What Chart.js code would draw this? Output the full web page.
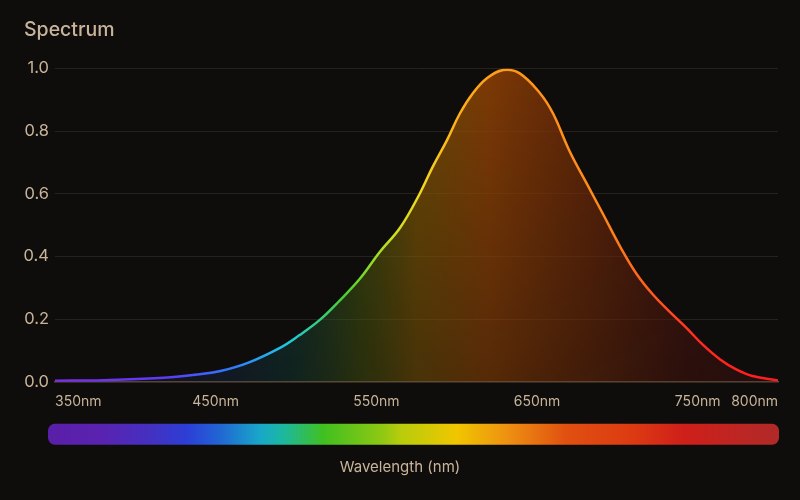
<!DOCTYPE html>
<html>
<head>
<meta charset="utf-8">
<script src="https://cdn.jsdelivr.net/npm/chart.js@4.4.0/dist/chart.umd.min.js"></script>
<style>
html,body{margin:0;padding:0;background:#0f0d0b;}
#wrap{width:800px;height:500px;}
</style>
</head>
<body>
<div id="wrap"><canvas id="myChart"></canvas></div>
<script>
// spectrum readings (nm, relative intensity)
const wavelengths=[350,380,415,440,453,470,490,502,515,527,540,552,565,577,585,594,602,610,619,629,639,652,660,670,681,691,702,712,722,732,743,753,764,774,784,800];
const intensity=[0.003,0.005,0.012,0.024,0.034,0.06,0.108,0.148,0.198,0.258,0.33,0.413,0.493,0.6,0.685,0.771,0.856,0.92,0.969,0.995,0.985,0.92,0.856,0.739,0.632,0.536,0.429,0.344,0.279,0.226,0.172,0.119,0.071,0.039,0.018,0.004];
const tickValues=[350,450,550,650,750,800];
const yTicks=[0,0.2,0.4,0.6,0.8,1.0];
const axisTitle='Wavelength (nm)';

// colour stops keyed by wavelength
const lineStops=[[350,'#7b2cf0'],[420,'#5b3cf5'],[460,'#2f7bff'],[495,'#20c8e0'],[530,'#48d030'],[560,'#c8e020'],[578,'#f0d820'],[600,'#ffb018'],[630,'#ff9a18'],[690,'#ff8a18'],[722,'#ff5a20'],[750,'#ff2a20'],[800,'#ff1a20']];
const fillStops=[[350,'rgba(40,20,80,0.25)'],[450,'rgba(20,50,95,0.45)'],[500,'rgba(20,75,65,0.55)'],[540,'rgba(72,90,15,0.68)'],[575,'rgba(125,86,5,0.8)'],[620,'rgba(140,64,5,0.88)'],[680,'rgba(110,42,8,0.82)'],[740,'rgba(76,20,14,0.74)'],[800,'rgba(62,15,20,0.6)']];
const barStops=[[345,'#5a1fa8'],[378,'#5a22b0'],[409,'#4530c0'],[432,'#2c3ed6'],[451,'#2262d4'],[478,'#18a8c8'],[492,'#1cb8a0'],[517,'#40c020'],[554,'#90c812'],[565,'#b8cc0c'],[600,'#f0c600'],[633,'#ee8e12'],[668,'#e05010'],[710,'#dc3a12'],[741,'#cf1f1a'],[800,'#b02a28']];

const txt='#c8b49a';
const fam='Inter, "Noto Sans", sans-serif';
Chart.defaults.font.family=fam;

function hGrad(ctx,scale,stops,x0,x1){
    const g=ctx.createLinearGradient(x0,0,x1,0);
    stops.forEach(([nm,c])=>{
        let o=(scale.getPixelForValue(nm)-x0)/(x1-x0);
        g.addColorStop(Math.min(1,Math.max(0,o)),c);
    });
    return g;
}

let fillCache=null;
function fillPattern(chart){
    const a=chart.chartArea;
    const key=a.left+','+a.right+','+a.top+','+a.bottom;
    if(fillCache&&fillCache.key===key) return fillCache.pat;
    const dpr=chart.currentDevicePixelRatio||1;
    const c=document.createElement('canvas');
    c.width=chart.width*dpr;c.height=chart.height*dpr;
    const cx=c.getContext('2d');
    cx.scale(dpr,dpr);
    cx.fillStyle=hGrad(cx,chart.scales.x,fillStops,a.left,a.right);
    cx.fillRect(0,0,chart.width,chart.height);
    cx.globalCompositeOperation='destination-in';
    const v=cx.createLinearGradient(0,a.top,0,a.bottom);
    v.addColorStop(0,'rgba(0,0,0,1)');
    v.addColorStop(1,'rgba(0,0,0,0.65)');
    cx.fillStyle=v;
    cx.fillRect(0,0,chart.width,chart.height);
    const pat=chart.ctx.createPattern(c,'no-repeat');
    if(pat.setTransform) pat.setTransform(new DOMMatrix([1/dpr,0,0,1/dpr,0,0]));
    fillCache={key,pat};
    return pat;
}

// colour strip under the axis + centred axis caption
const colorBar={
    id:'colorBar',
    afterDraw(chart){
        const {ctx,chartArea,scales}=chart;
        const x0=chartArea.left-7,x1=chartArea.right+1;
        const y0=chartArea.bottom+42,h=21;
        ctx.save();
        ctx.fillStyle=hGrad(ctx,scales.x,barStops,x0,x1);
        ctx.beginPath();
        ctx.roundRect(x0,y0,x1-x0,h,7);
        ctx.fill();
        ctx.fillStyle=txt;
        ctx.font='15px '+fam;
        ctx.textAlign='center';
        ctx.textBaseline='middle';
        ctx.fillText(axisTitle,chart.width/2,chartArea.bottom+86);
        ctx.restore();
    }
};

const points=wavelengths.map((w,i)=>({x:w,y:intensity[i]}));

new Chart(document.getElementById('myChart'),{
    type:'line',
    data:{
        datasets:[{
            label:'Spectrum',
            data:points,
            borderWidth:2.5,
            pointRadius:0,
            tension:0.4,
            fill:'origin',
            borderColor:(c)=>{
                const ch=c.chart;
                if(!ch.chartArea) return '#ff9a18';
                return hGrad(ch.ctx,ch.scales.x,lineStops,ch.chartArea.left,ch.chartArea.right);
            },
            backgroundColor:(c)=>{
                const ch=c.chart;
                if(!ch.chartArea) return 'rgba(120,60,5,0.6)';
                return fillPattern(ch);
            },
        }],
    },
    options:{
        responsive:true,
        maintainAspectRatio:false,
        animation:false,
        layout:{padding:{left:24,right:22,top:0,bottom:85.5}},
        plugins:{
            legend:{display:false},
            tooltip:{enabled:false},
            title:{
                display:true,
                text:'Spectrum',
                align:'start',
                color:txt,
                font:{size:19.5,weight:'500'},
                padding:{top:18,bottom:27},
            },
        },
        scales:{
            x:{
                type:'linear',
                min:350,
                max:800,
                afterBuildTicks:(s)=>{s.ticks=tickValues.map(v=>({value:v}));},
                grid:{display:false},
                border:{color:'#5a4838',width:1.5},
                ticks:{
                    align:'inner',
                    color:txt,
                    font:{size:14},
                    padding:4,
                    maxRotation:0,
                    autoSkip:false,
                    callback:(v)=>v+'nm',
                },
            },
            y:{
                min:0,
                max:1,
                afterBuildTicks:(s)=>{s.ticks=yTicks.map(v=>({value:v}));},
                afterFit:(s)=>{s.width=31;},
                grid:{color:'#27221d',drawTicks:false},
                border:{display:false},
                ticks:{
                    color:txt,
                    font:{size:16.5},
                    padding:6,
                    callback:(v)=>v.toFixed(1),
                },
            },
        },
    },
    plugins:[colorBar],
});
</script>
</body>
</html>
